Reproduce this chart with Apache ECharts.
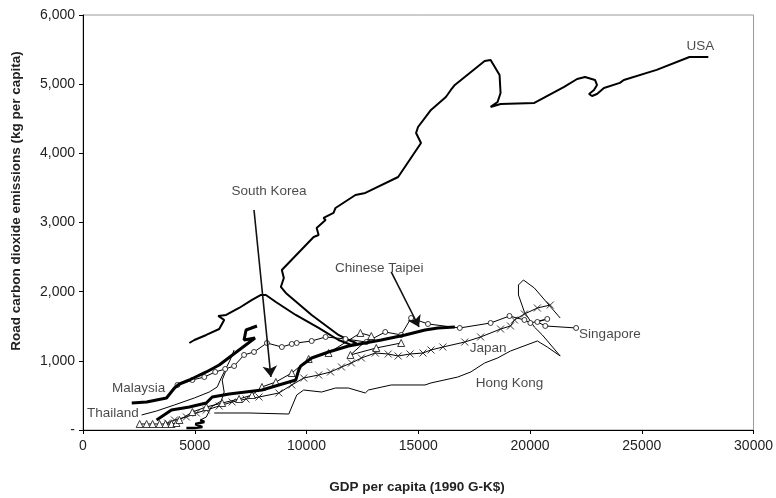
<!DOCTYPE html>
<html>
<head>
<meta charset="utf-8">
<script src="https://cdn.jsdelivr.net/npm/echarts@6/dist/echarts.min.js"></script>
<style>
  html, body { margin: 0; padding: 0; background: #fff; }
  #chart { width: 776px; height: 498px; }
</style>
</head>
<body>
<div id="chart"></div>
<script>
// Road CO2 emissions per capita against GDP per capita, one path per economy ([GDP, kg CO2]).
const usa = [
  [4759,1258],[4982,1301],[5516,1374],[6094,1460],[6316,1591],[6049,1648],[6405,1663],
  [6983,1764],[7562,1880],[7962,1952],[8184,1952],[8629,1851],[9519,1663],[10542,1475],
  [11431,1301],[12010,1229],[12232,1258],[11876,1301],[11431,1374],[10230,1663],[9074,1981],
  [8852,2068],[8985,2198],[8896,2314],[10319,2791],[10542,2820],[10453,2921],[10853,3037],
  [10764,3066],[11209,3138],[11298,3210],[12188,3398],[12632,3427],[14100,3658],[15123,4150],
  [14901,4294],[14990,4381],[15568,4627],[16235,4815],[16458,4916],[16636,4989],[17080,5104],
  [17970,5336],[18237,5350],[18637,5133],[18682,4873],[18548,4743],[18237,4671],[18682,4714],
  [20194,4728],[21528,4960],[22107,5075],[22462,5104],[22907,5061],[22996,4989],[22863,4916],
  [22640,4858],[22774,4829],[22996,4858],[23307,4945],[24019,5018],[24197,5061],[25665,5206],
  [27133,5393],[27978,5393]
];
const malaysia = [
  [2180,390],[2847,405],[3292,434],[3736,463],[4092,607],[4315,665],[4759,723],[5516,839],
  [6094,940],[6450,1027],[6805,1113],[7161,1200],[7695,1330],[7206,1301],[7295,1446],[7784,1504]
];
const thailand = [
  [2624,217],[3292,275],[4092,362],[4982,463],[5649,549],[6005,622],[6183,752],[6361,868],
  [6583,1012],[6761,1157]
];
const chineseTaipei = [
  [3292,145],[3959,289],[4759,333],[5516,390],[5782,477],[6539,521],[8006,578],[9519,723],
  [9652,868],[9741,925],[10230,1041],[10986,1128],[11876,1215],[13344,1301],[14412,1374],
  [15301,1446],[15879,1475],[16636,1489]
];
const southKorea = [
  [2535,87],[2847,87],[3114,87],[3425,87],[3692,87],[3959,87],[4181,101],[4315,145],[4893,260],
  [5516,333],[6227,390],[6983,448],[7562,506],[8006,622],[8629,694],[9341,824],[10097,1027],
  [10986,1113],[12410,1403],[12899,1359],[11965,1085],[13122,1186],[14234,1258]
];
const japan = [
  [3781,101],[4092,145],[4626,188],[5071,246],[5516,289],[6094,347],[6672,405],[7295,448],
  [7873,477],[8763,535],[9341,651],[9875,752],[10542,795],[11076,839],[11565,911],[12010,969],
  [12454,1041],[13077,1113],[13655,1099],[14100,1070],[14634,1099],[15212,1113],[15568,1157],
  [16102,1200],[17080,1272],[17792,1345],[18682,1460],[19126,1504],[19304,1591],[19749,1677],
  [20328,1764],[20906,1807]
];
const singapore = [
  [4226,651],[4893,723],[5427,766],[5916,839],[6361,882],[6761,925],[7206,1085],[7651,1128],
  [8229,1258],[8896,1200],[9341,1244],[9563,1258],[10230,1287],[10853,1345],[11743,1316],
  [12677,1272],[13522,1417],[14234,1374],[14678,1619],[15435,1533],[16858,1475],[18237,1547],
  [19082,1648],[19749,1591],[20016,1547],[20772,1605],[20328,1562],[20683,1504],[22062,1475]
];
const hongKong = [
  [5871,246],[7428,246],[9207,231],[9563,506],[9875,578],[10675,549],[11298,607],[11876,607],
  [12632,535],[12766,578],[13789,651],[15301,651],[15568,680],[16769,766],[17347,839],
  [17970,969],[18548,1041],[19126,1142],[20328,1287],[20772,1200],[21350,1070],[20550,1374],
  [20194,1489],[19749,1706],[19482,1952],[19482,2097],[19705,2169],[20194,2053],[20772,1836],
  [21350,1619]
];
// short unlabelled path near the origin (thick hook plus thin rise)
const unlabelledHook = [[4626,29],[4982,29],[5338,43],[5026,87],[5427,116],[5249,145]];
const unlabelledRise = [[5249,145],[5516,188],[5738,333],[6183,419],[6316,549],[6227,723],[6405,868]];

// Text labels: [name, x, y, anchor]
const labels = [
  ['USA', 27622, 5553, 'center'],
  ['South Korea', 8318, 3456, 'center'],
  ['Chinese Taipei', 13255, 2343, 'center'],
  ['Singapore', 22196, 1388, 'left'],
  ['Japan', 17303, 1186, 'left'],
  ['Hong Kong', 17570, 680, 'left'],
  ['Malaysia', 2491, 607, 'center'],
  ['Thailand', 1334, 246, 'center']
];
// Arrows: [from, to]
const arrows = [
  [[7651,3181],[8407,766]],
  [[13789,2285],[15034,1489]]
];

const xTicks = { min: 0, max: 30000, interval: 5000 };
const yTicks = { min: 0, max: 6000, interval: 1000 };

const FONT = '"Liberation Sans", Arial, sans-serif';
const MARK_CROSS = 'path://M0,0L10,10M10,0L0,10';
const MARK_RING = 'path://M10,5A5,5 0 1,1 0,5A5,5 0 1,1 10,5Z';
const MARK_TRI = 'path://M5,0L10,9L0,9Z';

const chart = echarts.init(document.getElementById('chart'));

function lineSeries(data, width, symbol, symbolSize, z) {
  return {
    type: 'line', data: data, z: z || 2,
    symbol: symbol || 'none', symbolSize: symbolSize || 0,
    showSymbol: !!symbol, showAllSymbol: true,
    lineStyle: { color: '#000', width: width },
    itemStyle: { color: '#fff', borderColor: '#222', borderWidth: 0.9 },
    silent: true, animation: false
  };
}

const series = [
  lineSeries(hongKong, 1),
  lineSeries(thailand, 1),
  lineSeries(unlabelledRise, 1),
  lineSeries(unlabelledHook, 2.5),
  lineSeries(japan, 1, MARK_CROSS, 7),
  lineSeries(singapore, 1, MARK_RING, 5),
  lineSeries(southKorea, 1, MARK_TRI, 7),
  lineSeries(usa, 2),
  lineSeries(malaysia, 3, null, 0, 3),
  lineSeries(chineseTaipei, 3, null, 0, 3)
];

labels.forEach(function (l) {
  series.push({
    type: 'scatter', data: [[l[1], l[2]]], symbolSize: 0, silent: true, z: 5,
    label: {
      show: true, formatter: l[0], position: l[3] === 'left' ? 'right' : 'inside', distance: 0,
      color: '#1a1a1a', fontSize: 13.5, fontFamily: FONT
    }
  });
});

series.push({
  type: 'scatter', data: [arrows[0][0]], symbolSize: 0, silent: true, z: 4,
  itemStyle: { color: '#111' },
  markLine: {
    silent: true, animation: false,
    symbol: ['none', 'arrow'], symbolSize: 11,
    itemStyle: { color: '#111' },
    lineStyle: { color: '#111', width: 1.6, type: 'solid' },
    label: { show: false },
    data: arrows.map(function (a) { return [{ coord: a[0] }, { coord: a[1] }]; })
  }
});

chart.setOption({
  animation: false,
  backgroundColor: '#fff',
  grid: { left: 83, right: 20, top: 15, bottom: 68, show: true, borderColor: '#999', borderWidth: 1 },
  xAxis: {
    type: 'value', min: xTicks.min, max: xTicks.max, interval: xTicks.interval,
    splitLine: { show: false },
    axisLine: { show: true, lineStyle: { color: '#000', width: 1 } },
    axisTick: { show: true, length: 4, lineStyle: { color: '#000' } },
    axisLabel: { color: '#222', fontSize: 14, fontFamily: FONT, margin: 9,
                 formatter: function (v) { return String(v); } }
  },
  yAxis: {
    type: 'value', min: yTicks.min, max: yTicks.max, interval: yTicks.interval,
    splitLine: { show: false },
    axisLine: { show: true, lineStyle: { color: '#000', width: 1 } },
    axisTick: { show: true, length: 4, lineStyle: { color: '#000' } },
    axisLabel: {
      color: '#222', fontSize: 14, fontFamily: FONT, margin: 8,
      formatter: function (v) { return v === 0 ? '-' : v.toLocaleString('en-US'); }
    }
  },
  graphic: [
    {
      type: 'text', x: 417, y: 487,
      style: { text: 'GDP per capita (1990 G-K$)', font: 'bold 13.5px ' + FONT, fill: '#222',
               textAlign: 'center', textVerticalAlign: 'middle' }
    },
    {
      type: 'text', x: 16, y: 201, rotation: Math.PI / 2,
      style: { text: 'Road carbon dioxide emissions (kg per capita)', font: 'bold 13.5px ' + FONT, fill: '#222',
               textAlign: 'center', textVerticalAlign: 'middle' }
    }
  ],
  series: series
});
</script>
</body>
</html>
